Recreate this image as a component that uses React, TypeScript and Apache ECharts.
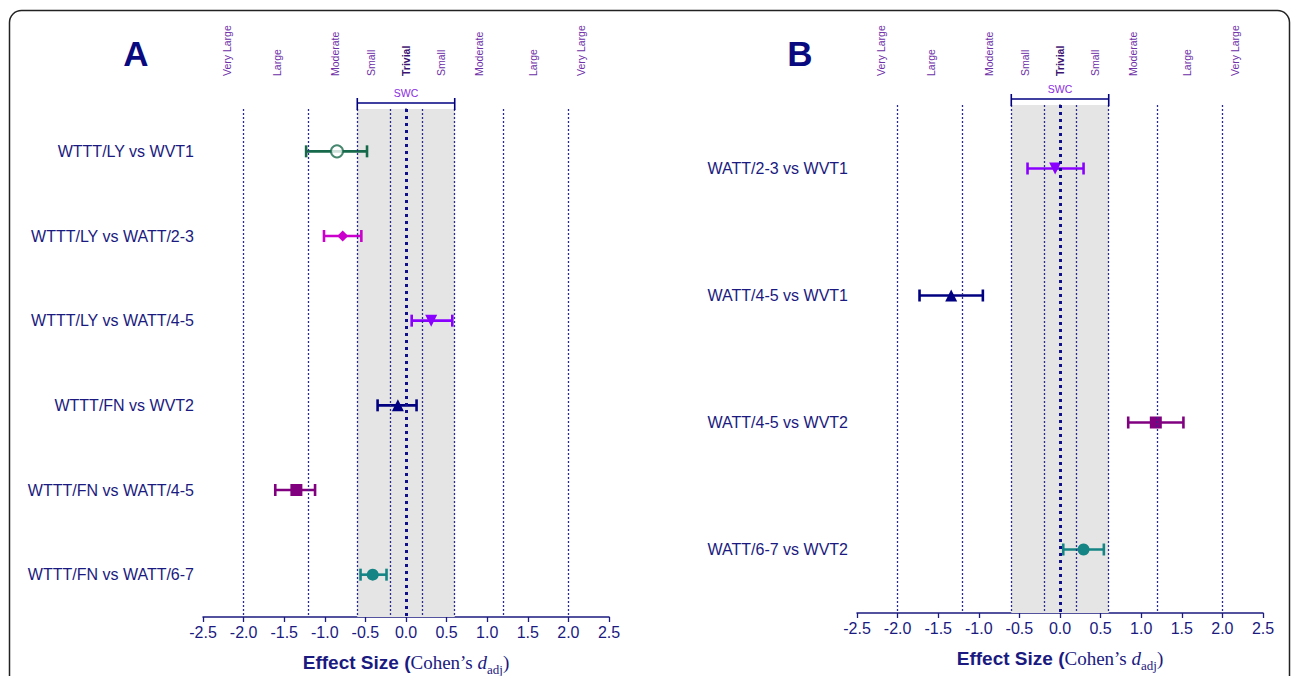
import React, { useEffect, useRef } from 'react';
import * as echarts from 'echarts';

// ---------- data ----------
const catsA = [
  'WTTT/LY vs WVT1',
  'WTTT/LY vs WATT/2-3',
  'WTTT/LY vs WATT/4-5',
  'WTTT/FN vs WVT2',
  'WTTT/FN vs WATT/4-5',
  'WTTT/FN vs WATT/6-7',
];
const meanA = [-0.85, -0.78, 0.31, -0.10, -1.35, -0.41];
const lowA = [-1.23, -1.01, 0.07, -0.35, -1.61, -0.56];
const highA = [-0.48, -0.55, 0.57, 0.13, -1.12, -0.24];

const catsB = [
  'WATT/2-3 vs WVT1',
  'WATT/4-5 vs WVT1',
  'WATT/4-5 vs WVT2',
  'WATT/6-7 vs WVT2',
];
const meanB = [-0.06, -1.34, 1.18, 0.29];
const lowB = [-0.40, -1.73, 0.84, 0.04];
const highB = [0.29, -0.95, 1.52, 0.54];

const refLines = [-2, -1.2, -0.6, -0.2, 0.2, 0.6, 1.2, 2];
const swcRange = [-0.6, 0.6];
const bandLabels = ['Very Large', 'Large', 'Moderate', 'Small', 'Trivial', 'Small', 'Moderate', 'Large', 'Very Large'];
const bandPos = [-2.2, -1.59, -0.88, -0.43, 0, 0.43, 0.9, 1.57, 2.16];
const xMin = -2.5;
const xMax = 2.5;
const xStep = 0.5;

// ---------- styles ----------
const NAVY = '#1a1a80';
const GREEN = '#17694b';
const MAGENTA = '#cc00cc';
const VIOLET = '#8a00ff';
const DNAVY = '#000080';
const PURPLE = '#800080';
const TEAL = '#148484';

const colorsA = [GREEN, MAGENTA, VIOLET, DNAVY, PURPLE, TEAL];
const symbolsA = ['emptyCircle', 'diamond', 'triangle', 'triangle', 'rect', 'circle'];
const rotA = [0, 0, 180, 0, 0, 0];
const colorsB = [VIOLET, DNAVY, PURPLE, TEAL];
const symbolsB = ['triangle', 'triangle', 'rect', 'circle'];
const rotB = [180, 0, 0, 0];

const SANS = 'Liberation Sans, Arial, sans-serif';
const SERIF = 'Liberation Serif, Times New Roman, serif';

function buildPanel(
  idx: number,
  cats: string[],
  mean: number[],
  low: number[],
  high: number[],
  colors: string[],
  symbols: string[],
  rots: number[],
  labelOffset: number
) {
  const series: any[] = [];
  // background: shaded SWC band + reference lines
  series.push({
    type: 'scatter',
    xAxisIndex: idx,
    yAxisIndex: idx,
    data: [],
    z: 1,
    silent: true,
    markArea: {
      silent: true,
      itemStyle: { color: '#e5e5e5' },
      data: [[{ xAxis: swcRange[0] }, { xAxis: swcRange[1] }]],
    },
    markLine: {
      silent: true,
      symbol: 'none',
      label: { show: false },
      data: [
        ...refLines.map((v) => ({
          xAxis: v,
          lineStyle: { color: '#2a2a90', width: 1.3, type: [2, 2] },
        })),
        { xAxis: 0, lineStyle: { color: '#10108a', width: 3, type: [3, 4] } },
      ],
    },
  });
  // error bars
  series.push({
    type: 'custom',
    xAxisIndex: idx,
    yAxisIndex: idx,
    z: 3,
    encode: { x: [0, 1], y: 2 },
    data: cats.map((_, i) => [low[i], high[i], i]),
    renderItem: (params: any, api: any) => {
      const i = api.value(2);
      const p1 = api.coord([api.value(0), i]);
      const p2 = api.coord([api.value(1), i]);
      const col = colors[params.dataIndex];
      const h = 6;
      const st = { stroke: col, lineWidth: 2.6 };
      return {
        type: 'group',
        children: [
          { type: 'line', shape: { x1: p1[0], y1: p1[1], x2: p2[0], y2: p2[1] }, style: st },
          { type: 'line', shape: { x1: p1[0], y1: p1[1] - h, x2: p1[0], y2: p1[1] + h }, style: st },
          { type: 'line', shape: { x1: p2[0], y1: p2[1] - h, x2: p2[0], y2: p2[1] + h }, style: st },
        ],
      };
    },
  });
  // points
  series.push({
    type: 'scatter',
    xAxisIndex: idx,
    yAxisIndex: idx,
    z: 4,
    data: cats.map((_, i) => ({
      value: [mean[i], i],
      symbol: symbols[i],
      symbolRotate: rots[i],
      symbolSize: symbols[i] === 'rect' ? 12 : symbols[i] === 'diamond' ? 11 : 12,
      itemStyle: symbols[i] === 'emptyCircle'
        ? { color: colors[i], borderColor: colors[i], borderWidth: 2.5 }
        : { color: colors[i], opacity: 1 },
    })),
  });
  // band labels above the plot
  series.push({
    type: 'custom',
    xAxisIndex: idx,
    yAxisIndex: idx,
    z: 5,
    clip: false,
    silent: true,
    data: bandPos.map((x) => [x, 0]),
    encode: { x: 0, y: 1 },
    renderItem: (params: any, api: any) => {
      const p = api.coord([api.value(0), 0]);
      const top = params.coordSys.y;
      const lbl = bandLabels[params.dataIndex];
      const trivial = lbl === 'Trivial';
      return {
        type: 'text',
        x: p[0],
        y: top - labelOffset,
        rotation: Math.PI / 2,
        style: {
          text: lbl,
          fill: trivial ? '#3a1470' : '#7030a8',
          fontFamily: SANS,
          fontSize: 10.5,
          fontWeight: trivial ? 'bold' : 'normal',
          align: 'left',
          verticalAlign: 'middle',
        },
      };
    },
  });
  // SWC bracket
  series.push({
    type: 'custom',
    xAxisIndex: idx,
    yAxisIndex: idx,
    z: 5,
    clip: false,
    silent: true,
    data: [[swcRange[0], swcRange[1], 0]],
    encode: { x: [0, 1], y: 2 },
    renderItem: (params: any, api: any) => {
      const a = api.coord([api.value(0), 0]);
      const b = api.coord([api.value(1), 0]);
      const top = params.coordSys.y;
      const yb = top - 6;
      const st = { stroke: DNAVY, lineWidth: 1.6 };
      return {
        type: 'group',
        children: [
          { type: 'line', shape: { x1: a[0], y1: yb, x2: b[0], y2: yb }, style: st },
          { type: 'line', shape: { x1: a[0], y1: yb - 5, x2: a[0], y2: top + 1 }, style: st },
          { type: 'line', shape: { x1: b[0], y1: yb - 5, x2: b[0], y2: top + 1 }, style: st },
          {
            type: 'text',
            x: (a[0] + b[0]) / 2,
            y: top - 16,
            style: {
              text: 'SWC',
              fill: '#8a2be2',
              fontFamily: SANS,
              fontSize: 10.5,
              align: 'center',
              verticalAlign: 'middle',
            },
          },
        ],
      };
    },
  });
  return series;
}

function xAxisFor(idx: number): any {
  return {
    type: 'value',
    gridIndex: idx,
    min: xMin,
    max: xMax,
    interval: xStep,
    axisLine: { show: true, lineStyle: { color: NAVY, width: 1.5 } },
    axisTick: { show: true, length: 5, lineStyle: { color: NAVY, width: 1.3 } },
    splitLine: { show: false },
    axisLabel: {
      color: NAVY,
      fontFamily: SANS,
      fontSize: 16,
      margin: 7,
      formatter: (v: number) => v.toFixed(1),
    },
    name: '{b|Effect Size (}{s|Cohen\u2019s }{i|d}{sub|adj}{s|)}',
    nameLocation: 'middle',
    nameGap: 32,
    nameTextStyle: {
      rich: {
        b: { fontFamily: SANS, fontWeight: 'bold', fontSize: 19, color: NAVY },
        s: { fontFamily: SERIF, fontSize: 19, color: NAVY },
        i: { fontFamily: SERIF, fontStyle: 'italic', fontSize: 19, color: NAVY },
        sub: { fontFamily: SERIF, fontSize: 13, color: NAVY, padding: [14, 0, 0, 0] },
      },
    },
  };
}

function yAxisFor(idx: number, cats: string[]): any {
  return {
    type: 'category',
    gridIndex: idx,
    data: cats,
    inverse: true,
    axisLine: { show: true, lineStyle: { color: NAVY, width: 1.5 } },
    axisTick: { show: true, alignWithLabel: true, length: 4, lineStyle: { color: NAVY, width: 1.3 } },
    splitLine: { show: false },
    axisLabel: { color: NAVY, fontFamily: SANS, fontSize: 16, margin: 9 },
  };
}

export default function App() {
  const ref = useRef<HTMLDivElement>(null);
  useEffect(() => {
    if (!ref.current) return;
    const chart = echarts.init(ref.current, null, { renderer: 'svg' });
    chart.setOption({
      animation: false,
      backgroundColor: '#ffffff',
      grid: [
        { left: 203, top: 109, width: 406, height: 508, containLabel: false, outerBoundsMode: 'none' },
        { left: 857, top: 105, width: 406, height: 508, containLabel: false, outerBoundsMode: 'none' },
      ],
      xAxis: [xAxisFor(0), xAxisFor(1)],
      yAxis: [yAxisFor(0, catsA), yAxisFor(1, catsB)],
      graphic: [
        {
          type: 'rect',
          shape: { x: 9.5, y: 10.5, width: 1280, height: 720, r: 12 },
          style: { fill: 'none', stroke: '#222', lineWidth: 1.5 },
          z: 0,
        },
        {
          type: 'text',
          x: 136,
          y: 53,
          style: { text: 'A', fill: '#0a0a80', fontFamily: SANS, fontWeight: 'bold', fontSize: 35, align: 'center', verticalAlign: 'middle' },
        },
        {
          type: 'text',
          x: 800,
          y: 53,
          style: { text: 'B', fill: '#0a0a80', fontFamily: SANS, fontWeight: 'bold', fontSize: 35, align: 'center', verticalAlign: 'middle' },
        },
      ],
      series: [
        ...buildPanel(0, catsA, meanA, lowA, highA, colorsA, symbolsA, rotA, 33),
        ...buildPanel(1, catsB, meanB, lowB, highB, colorsB, symbolsB, rotB, 29),
      ],
    });
    return () => chart.dispose();
  }, []);
  return (
    <div
      ref={ref}
      style={{ position: 'fixed', left: 0, top: 0, width: 1292, height: 676, background: '#fff' }}
    />
  );
}
